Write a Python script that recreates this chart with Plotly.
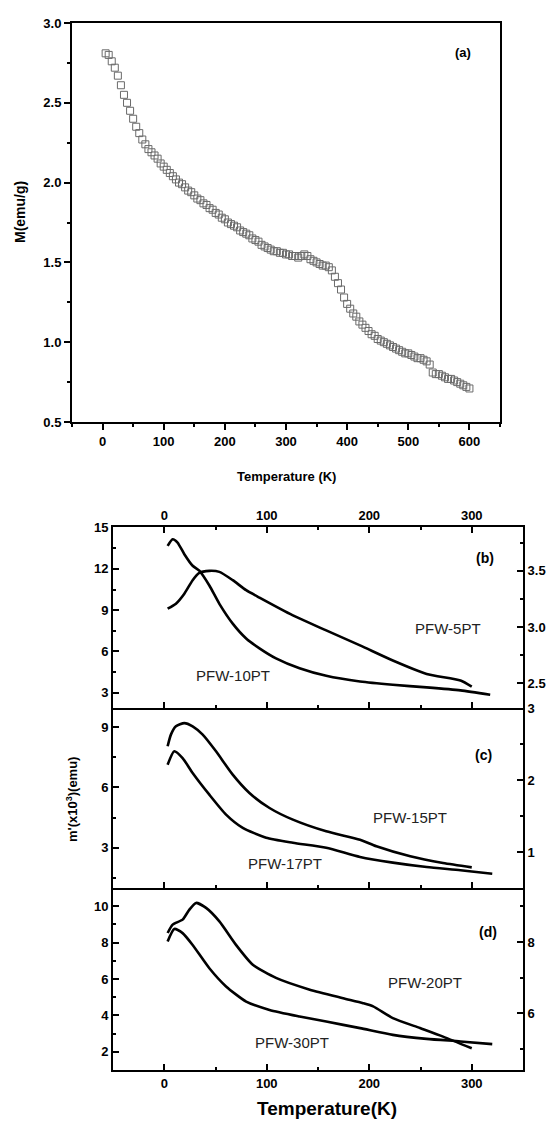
import plotly.graph_objects as go

# ---------------- data ----------------
# panel (a): M vs T
T_a = [5, 10, 15, 20, 25, 30, 35, 40, 45, 50, 55, 60, 65, 70, 75, 80, 85, 90, 95, 100,
       105, 110, 115, 120, 125, 130, 135, 140, 145, 150, 155, 160, 165, 170, 175, 180, 185, 190, 195, 200,
       205, 210, 215, 220, 225, 230, 235, 240, 245, 250, 255, 260, 265, 270, 275, 280, 285, 290, 295, 300,
       305, 310, 315, 320, 325, 330, 335, 340, 345, 350, 355, 360, 365, 370, 375, 380, 385, 390, 395, 400,
       405, 410, 415, 420, 425, 430, 435, 440, 445, 450, 455, 460, 465, 470, 475, 480, 485, 490, 495, 500,
       505, 510, 515, 520, 525, 530, 535, 540, 545, 550, 555, 560, 565, 570, 575, 580, 585, 590, 595, 600]
M_a = [2.81, 2.80, 2.76, 2.72, 2.67, 2.61, 2.55, 2.50, 2.45, 2.40, 2.35, 2.31, 2.27, 2.24, 2.21, 2.19, 2.17, 2.15, 2.12, 2.10,
       2.08, 2.06, 2.04, 2.02, 2.00, 1.99, 1.97, 1.95, 1.94, 1.92, 1.90, 1.89, 1.87, 1.86, 1.84, 1.83, 1.81, 1.80, 1.78, 1.77,
       1.75, 1.74, 1.73, 1.72, 1.70, 1.69, 1.68, 1.67, 1.65, 1.64, 1.63, 1.61, 1.60, 1.59, 1.58, 1.57, 1.57, 1.56, 1.56, 1.55,
       1.55, 1.54, 1.54, 1.53, 1.54, 1.55, 1.54, 1.52, 1.51, 1.50, 1.49, 1.48, 1.48, 1.47, 1.45, 1.41, 1.37, 1.33, 1.28, 1.24,
       1.21, 1.18, 1.16, 1.13, 1.11, 1.09, 1.07, 1.05, 1.04, 1.02, 1.01, 1.00, 0.99, 0.98, 0.97, 0.96, 0.95, 0.94, 0.93, 0.93,
       0.92, 0.91, 0.90, 0.90, 0.89, 0.88, 0.86, 0.81, 0.80, 0.80, 0.79, 0.78, 0.77, 0.77, 0.76, 0.75, 0.74, 0.73, 0.72, 0.71]

# panel (b)
T_10 = [3.3, 8.2, 13, 19.6, 27.7, 34.2, 44, 53.8, 66.8, 79.9, 92.9, 109, 132, 158, 191, 223, 256, 289, 318]
m_10 = [13.68, 14.16, 13.92, 13.07, 12.23, 11.87, 10.79, 9.46, 8.02, 6.94, 6.22, 5.49, 4.77, 4.22, 3.81, 3.57, 3.38, 3.16, 2.85]
T_5 = [3.3, 11.4, 19.6, 27.7, 34.2, 44, 53.8, 66.8, 79.9, 92.9, 125.5, 158, 191, 223, 256, 289, 300]
m_5 = [3.163, 3.208, 3.297, 3.417, 3.482, 3.500, 3.491, 3.417, 3.328, 3.262, 3.104, 2.970, 2.837, 2.703, 2.583, 2.524, 2.470]

# panel (c)
T_15 = [3.3, 6.5, 11.4, 19.6, 27.7, 37.5, 50.5, 66.8, 83.1, 102.7, 125.5, 158, 191, 207, 240, 272, 300]
m_15 = [2.468, 2.63, 2.745, 2.79, 2.745, 2.63, 2.398, 2.074, 1.819, 1.611, 1.449, 1.287, 1.171, 1.079, 0.94, 0.847, 0.787]
T_17 = [3.3, 9.8, 17.9, 27.7, 44, 60.3, 76.6, 99.4, 125.5, 158, 191, 223, 256, 289, 320]
m_17 = [7.13, 7.80, 7.46, 6.72, 5.64, 4.65, 3.99, 3.50, 3.25, 3.00, 2.54, 2.26, 2.04, 1.88, 1.71]

# panel (d)
T_20 = [3.3, 8.2, 17.9, 24.5, 31, 40.8, 53.8, 70, 86.4, 109, 142, 174.5, 194, 203.8, 223, 249.5, 272, 300]
m_20 = [8.254, 8.49, 8.63, 8.91, 9.10, 8.96, 8.58, 7.92, 7.36, 6.99, 6.66, 6.42, 6.28, 6.19, 5.86, 5.58, 5.34, 5.01]
T_30 = [3.3, 9.8, 17.9, 27.7, 44, 60.3, 79.9, 102.7, 132, 158, 191, 223, 256, 289, 320]
m_30 = [8.06, 8.75, 8.52, 7.87, 6.59, 5.59, 4.76, 4.30, 3.94, 3.66, 3.30, 2.93, 2.71, 2.57, 2.42]

# ---------------- figure ----------------
W, H = 558, 1122
def px(x): return x / W
def py(y): return 1 - y / H

FONT = "Liberation Sans, Arial, sans-serif"
tickf = dict(family=FONT, size=13, color="black", weight="bold")

fig = go.Figure()

# (a)
fig.add_trace(go.Scatter(x=T_a, y=M_a, mode="markers", xaxis="x", yaxis="y",
                         marker=dict(symbol="square-open", size=7, color="#6a6a6a",
                                     line=dict(width=1, color="#6a6a6a")),
                         showlegend=False))

line = dict(color="black", width=2.6, shape="spline", smoothing=0.6)
fig.add_trace(go.Scatter(x=T_10, y=m_10, mode="lines", xaxis="x2", yaxis="y2", line=line, showlegend=False))
fig.add_trace(go.Scatter(x=T_5, y=m_5, mode="lines", xaxis="x2", yaxis="y3", line=line, showlegend=False))
fig.add_trace(go.Scatter(x=T_17, y=m_17, mode="lines", xaxis="x3", yaxis="y4", line=line, showlegend=False))
fig.add_trace(go.Scatter(x=T_15, y=m_15, mode="lines", xaxis="x3", yaxis="y5", line=line, showlegend=False))
fig.add_trace(go.Scatter(x=T_30, y=m_30, mode="lines", xaxis="x4", yaxis="y6", line=line, showlegend=False))
fig.add_trace(go.Scatter(x=T_20, y=m_20, mode="lines", xaxis="x4", yaxis="y7", line=line, showlegend=False))

ax_common = dict(showline=True, linecolor="black", linewidth=2, showgrid=False, zeroline=False,
                 tickcolor="black", tickfont=tickf, ticklen=6, tickwidth=2, automargin=False)

xb = [px(113), px(523)]
dom_b = [py(708), py(527)]
dom_c = [py(888), py(708)]
dom_d = [py(1070), py(888)]

def minor(d, t):
    return dict(dtick=d, ticks=t, ticklen=3, tickcolor="black", tickwidth=1.5)

fig.update_layout(
    width=W, height=H, margin=dict(l=0, r=0, t=0, b=0),
    paper_bgcolor="white", plot_bgcolor="white",
    xaxis=dict(domain=[px(72), px(500)], anchor="y", range=[-50, 650], dtick=100, tick0=0,
               ticks="outside", mirror=True, minor=minor(50, "outside"), **ax_common),
    yaxis=dict(domain=[py(422), py(23)], anchor="x", range=[0.5, 3.0], dtick=0.5, tick0=0,
               tickformat=".1f", ticks="outside", mirror=True, minor=minor(0.25, "outside"),
               **ax_common),
    # (b) x axis on top with labels, ticks mirrored to the bottom edge
    xaxis2=dict(domain=xb, anchor="y2", side="top", range=[-50, 350], dtick=100, tick0=0,
                ticks="inside", mirror="ticks", minor=minor(50, "inside"), **ax_common),
    yaxis2=dict(domain=dom_b, anchor="x2", range=[1.88, 15.05], dtick=3, tick0=0, ticks="inside",
                minor=minor(1.5, "inside"), **ax_common),
    yaxis3=dict(domain=dom_b, anchor="x2", overlaying="y2", side="right", range=[2.28, 3.89],
                dtick=0.5, tick0=0, tickformat=".1f", ticks="inside",
                minor=minor(0.25, "inside"), **ax_common),
    # (c)
    xaxis3=dict(domain=xb, anchor="y4", range=[-50, 350], dtick=100, tick0=0,
                ticks="inside", showticklabels=False,
                minor=minor(50, "inside"), **ax_common),
    yaxis4=dict(domain=dom_c, anchor="x3", range=[1.0, 9.95], dtick=3, tick0=0, ticks="inside",
                minor=minor(1.5, "inside"), **ax_common),
    yaxis5=dict(domain=dom_c, anchor="x3", overlaying="y4", side="right", range=[0.5, 3.0],
                dtick=1, tick0=0, ticks="inside", minor=minor(0.5, "inside"), **ax_common),
    # (d)
    xaxis4=dict(domain=xb, anchor="y6", range=[-50, 350], dtick=100, tick0=0,
                ticks="inside", minor=minor(50, "inside"), **ax_common),
    yaxis6=dict(domain=dom_d, anchor="x4", range=[1.0, 11.0], dtick=2, tick0=0, ticks="inside",
                minor=minor(1, "inside"), **ax_common),
    yaxis7=dict(domain=dom_d, anchor="x4", overlaying="y6", side="right", range=[4.4, 9.52],
                dtick=2, tick0=0, ticks="inside", minor=minor(1, "inside"), **ax_common),
)

def ann(x, y, text, size=13, bold=True, angle=0, color="black", xanchor="center"):
    fig.add_annotation(x=px(x), y=py(y), xref="paper", yref="paper", text=text, showarrow=False,
                       textangle=angle, xanchor=xanchor, yanchor="middle",
                       font=dict(family=FONT, size=size, color=color, weight="bold" if bold else "normal"))

ann(286, 477, "Temperature (K)", size=13)
ann(20, 212, "M(emu/g)", size=14, angle=-90)
ann(463, 52, "(a)", size=13)

ann(485, 558, "(b)", size=14)
ann(483, 755, "(c)", size=14)
ann(488, 932, "(d)", size=14)

ann(448, 628, "PFW-5PT", size=15, bold=False, color="#222222")
ann(233, 675, "PFW-10PT", size=15, bold=False, color="#222222")
ann(410, 817, "PFW-15PT", size=15, bold=False, color="#222222")
ann(285, 863, "PFW-17PT", size=15, bold=False, color="#222222")
ann(425, 982, "PFW-20PT", size=15, bold=False, color="#222222")
ann(292, 1042, "PFW-30PT", size=15, bold=False, color="#222222")

ann(72, 800, "m'(x10<sup>3</sup>)(emu)", size=13, angle=-90)
ann(327, 1108, "Temperature(K)", size=19)

fig.write_html("out.html", config={"displayModeBar": False},
               post_script="document.body.style.margin='0';document.body.style.overflow='hidden';")
